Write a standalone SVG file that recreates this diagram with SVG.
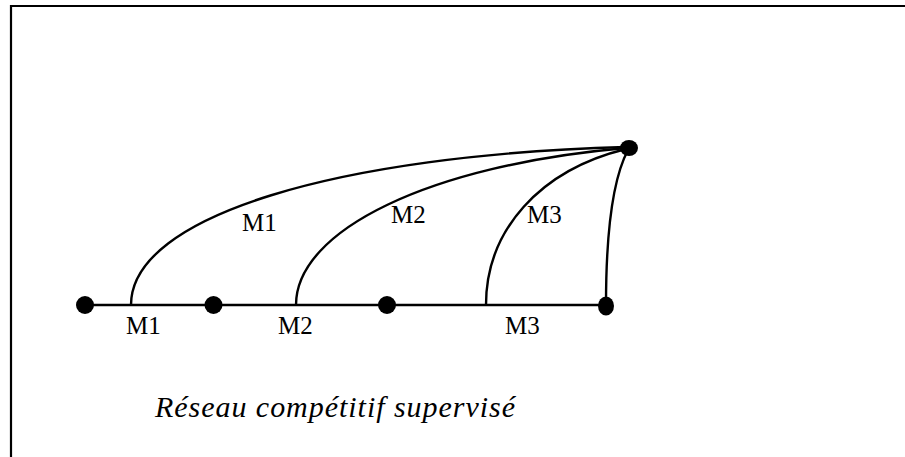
<svg xmlns="http://www.w3.org/2000/svg" width="905" height="457" viewBox="0 0 905 457">
<style>
.ln{fill:none;stroke:#000;stroke-width:2.4}
.fr{fill:none;stroke:#000;stroke-width:2.2}
.dot{fill:#000}
.lbl{font-family:"Liberation Serif","Times New Roman",serif;font-size:25px;fill:#000}
.ttl{font-family:"Liberation Serif","Times New Roman",serif;font-size:30px;font-style:italic;fill:#000}
</style>
<rect width="905" height="457" fill="#fff"/>
<g id="frame">
<path class="fr" d="M11,457 V6 H905"/>
</g>
<g id="connectors">
<path class="ln" d="M85,305 H606"/>
<path class="ln" d="M131,305 C131,215 340,155 626,147"/>
<path class="ln" d="M296,305 C296,230 430,165 626,148"/>
<path class="ln" d="M486,305 C486,230 540,170 626,149"/>
<path class="ln" d="M606,305 C606,240 612,180 628,150"/>
</g>
<g id="n1"><circle class="dot" cx="85" cy="305" r="9"/></g>
<g id="n2"><circle class="dot" cx="213.5" cy="305" r="9"/></g>
<g id="n3"><circle class="dot" cx="387" cy="305" r="9"/></g>
<g id="n4"><ellipse class="dot" cx="606" cy="306" rx="8" ry="9.5"/></g>
<g id="n5"><ellipse class="dot" cx="629" cy="148" rx="9" ry="8"/></g>
<g id="labels">
<text class="lbl" x="126" y="334">M1</text>
<text class="lbl" x="278" y="334">M2</text>
<text class="lbl" x="505" y="334">M3</text>
<text class="lbl" x="242" y="231">M1</text>
<text class="lbl" x="391" y="223">M2</text>
<text class="lbl" x="527" y="223">M3</text>
<text class="ttl" x="155" y="417" textLength="360" lengthAdjust="spacing">Réseau compétitif supervisé</text>
</g>
</svg>
